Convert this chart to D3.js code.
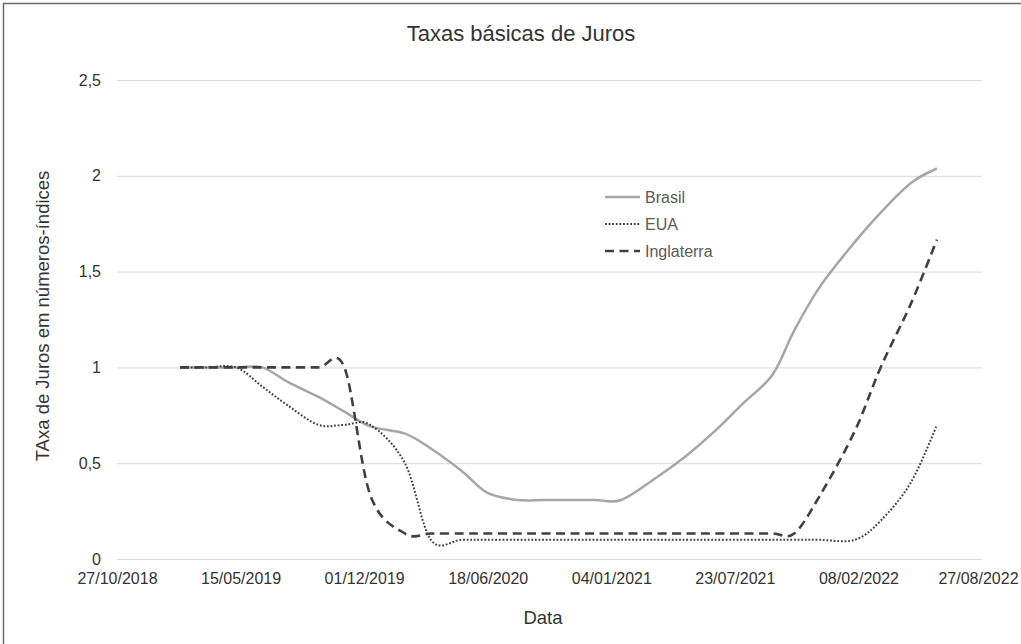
<!DOCTYPE html>
<html>
<head>
<meta charset="utf-8">
<script src="https://cdn.jsdelivr.net/npm/d3@7"></script>
<style>
  html, body { margin: 0; padding: 0; background: #fff; }
  svg { display: block; font-family: "Liberation Sans", Arial, sans-serif; }
</style>
</head>
<body>
<svg id="chart" width="1021" height="644"></svg>
<script>
// ---- data ----
const dates = [
  "06/02/2019","20/03/2019","08/05/2019","19/06/2019","31/07/2019","18/09/2019","30/10/2019","11/12/2019",
  "05/02/2020","18/03/2020","06/05/2020","17/06/2020","05/08/2020","16/09/2020","28/10/2020","09/12/2020",
  "20/01/2021","17/03/2021","05/05/2021","16/06/2021","04/08/2021","22/09/2021","27/10/2021","08/12/2021",
  "02/02/2022","16/03/2022","04/05/2022","15/06/2022"
];
const brasil = [1, 1, 1, 1, 0.923, 0.846, 0.769, 0.692,
  0.654, 0.577, 0.462, 0.346, 0.308, 0.308, 0.308, 0.308,
  0.308, 0.423, 0.538, 0.654, 0.808, 0.962, 1.192, 1.423,
  1.654, 1.808, 1.962, 2.038];
const eua = [1, 1, 1, 0.9, 0.8, 0.7, 0.7, 0.7,
  0.5, 0.1, 0.1, 0.1, 0.1, 0.1, 0.1, 0.1,
  0.1, 0.1, 0.1, 0.1, 0.1, 0.1, 0.1, 0.1,
  0.1, 0.2, 0.4, 0.7];
const inglaterra = [1, 1, 1, 1, 1, 1, 1, 0.333,
  0.133, 0.133, 0.133, 0.133, 0.133, 0.133, 0.133, 0.133,
  0.133, 0.133, 0.133, 0.133, 0.133, 0.133, 0.133, 0.333,
  0.667, 1.0, 1.333, 1.667];
const seriesNames = ["Brasil", "EUA", "Inglaterra"];
const xTickLabels = ["27/10/2018","15/05/2019","01/12/2019","18/06/2020","04/01/2021","23/07/2021","08/02/2022","27/08/2022"];
const yTicks = [0, 0.5, 1, 1.5, 2, 2.5];

// ---- setup ----
const parse = d3.timeParse("%d/%m/%Y");
const fmtDate = d3.timeFormat("%d/%m/%Y");
const svg = d3.select("#chart");
const plotLeft = 117, plotRight = 982, plotTop = 80, plotBottom = 559;

const x = d3.scaleTime()
  .domain([parse(xTickLabels[0]), parse(xTickLabels[xTickLabels.length - 1])])
  .range([plotLeft, plotRight]);
const y = d3.scaleLinear().domain([0, 2.5]).range([plotBottom, plotTop]);

// frame
svg.append("line").attr("x1", 3.5).attr("x2", 3.5).attr("y1", 3).attr("y2", 644)
  .attr("stroke", "#6b6b6b").attr("stroke-width", 1.5);
svg.append("line").attr("x1", 3).attr("x2", 1021).attr("y1", 3.5).attr("y2", 3.5)
  .attr("stroke", "#6b6b6b").attr("stroke-width", 1.5);

// title
svg.append("text").attr("x", 521).attr("y", 41).attr("text-anchor", "middle")
  .attr("font-size", 22).attr("fill", "#333").text("Taxas básicas de Juros");

// y grid + labels
const yAxis = d3.axisLeft(y).tickValues(yTicks).tickSize(-(plotRight - plotLeft)).tickPadding(16)
  .tickFormat(d => String(d).replace(".", ","));
const gy = svg.append("g").attr("transform", `translate(${plotLeft},0)`).call(yAxis);
gy.select(".domain").remove();
gy.selectAll(".tick line").attr("stroke", "#d9d9d9").attr("stroke-width", 1);
gy.selectAll(".tick text").attr("font-size", 16).attr("fill", "#333")
  .attr("font-family", "Liberation Sans, Arial, sans-serif");

// x axis labels
const xAxis = d3.axisBottom(x).tickValues(xTickLabels.map(parse)).tickSize(0).tickPadding(14)
  .tickFormat(fmtDate);
const gx = svg.append("g").attr("transform", `translate(0,${plotBottom})`).call(xAxis);
gx.select(".domain").remove();
gx.selectAll(".tick text").attr("font-size", 16).attr("fill", "#333")
  .attr("font-family", "Liberation Sans, Arial, sans-serif");
// keep the last label inside the picture
gx.selectAll(".tick text").filter((d, i, n) => i === n.length - 1).attr("dx", -4);

// axis titles
svg.append("text").attr("x", 543).attr("y", 624).attr("text-anchor", "middle")
  .attr("font-size", 18.5).attr("fill", "#333").text("Data");
svg.append("text").attr("transform", "translate(49,316) rotate(-90)").attr("text-anchor", "middle")
  .attr("font-size", 18.5).attr("fill", "#333").text("TAxa de Juros em números-índices");

// lines
const styles = {
  "Brasil": { color: "#a6a6a6", width: 2.5, dash: null },
  "EUA": { color: "#404040", width: 2, dash: "1.8,1.8" },
  "Inglaterra": { color: "#404040", width: 2.6, dash: "9,5.5" }
};
const valuesBy = { "Brasil": brasil, "EUA": eua, "Inglaterra": inglaterra };
const line = d3.line().x(d => x(d[0])).y(d => y(d[1])).curve(d3.curveCardinal.tension(0));
const parsedDates = dates.map(parse);

["Brasil", "Inglaterra", "EUA"].forEach(name => {
  const st = styles[name];
  svg.append("path")
    .datum(parsedDates.map((dt, i) => [dt, valuesBy[name][i]]))
    .attr("fill", "none").attr("stroke", st.color).attr("stroke-width", st.width)
    .attr("stroke-dasharray", st.dash).attr("stroke-linejoin", "round")
    .attr("d", line);
});

// legend
const legend = svg.append("g");
seriesNames.forEach((name, i) => {
  const st = styles[name];
  const ly = 197 + i * 27;
  legend.append("line").attr("x1", 605).attr("x2", 640).attr("y1", ly).attr("y2", ly)
    .attr("stroke", st.color).attr("stroke-width", st.width).attr("stroke-dasharray", st.dash);
  legend.append("text").attr("x", 645).attr("y", ly + 5.5).attr("font-size", 16)
    .attr("fill", "#595959").text(name);
});
</script>
</body>
</html>
